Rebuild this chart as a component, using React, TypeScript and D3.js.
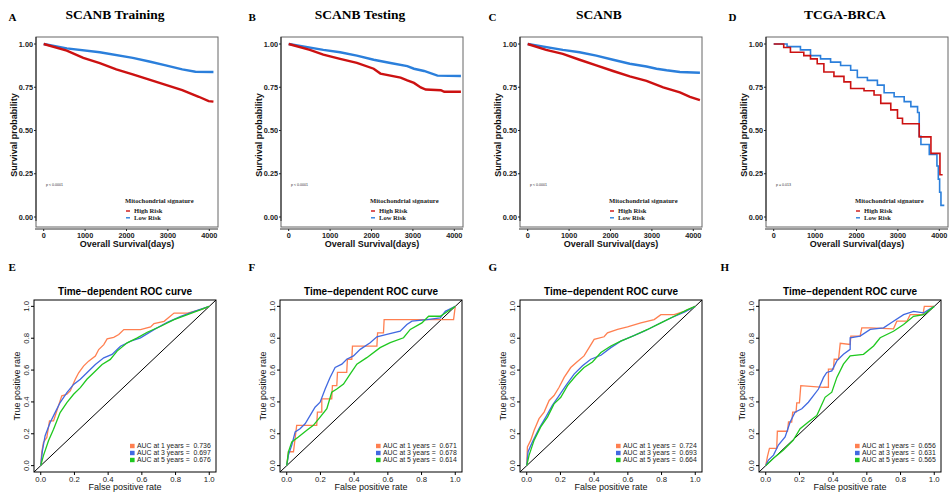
import React from 'react';
import * as d3 from 'd3';

// Kaplan-Meier curves: [days, survival probability]
const kmHighTrain = [[0, 1], [558, 0.962], [956, 0.92], [1355, 0.889], [1753, 0.853], [2151, 0.825], [2550, 0.794], [2948, 0.764], [3347, 0.733], [3745, 0.695], [3984, 0.67], [4100, 0.667]];
const kmLowTrain = [[0, 1], [558, 0.975], [1355, 0.952], [2151, 0.92], [2550, 0.899], [2948, 0.876], [3347, 0.853], [3665, 0.84], [4100, 0.838]];
const kmHighTest = [[0, 1], [511, 0.966], [836, 0.939], [1241, 0.914], [1647, 0.891], [2053, 0.857], [2215, 0.829], [2702, 0.806], [2864, 0.79], [3026, 0.775], [3189, 0.749], [3310, 0.737], [3675, 0.733], [3757, 0.724], [4160, 0.724]];
const kmLowTest = [[0, 1], [836, 0.966], [1241, 0.952], [1647, 0.933], [2053, 0.909], [2458, 0.89], [2864, 0.872], [3026, 0.857], [3270, 0.844], [3594, 0.817], [4160, 0.815]];
const kmHighAll = [[0, 1], [444, 0.966], [848, 0.943], [1253, 0.909], [1657, 0.876], [2061, 0.844], [2465, 0.813], [2869, 0.787], [3273, 0.749], [3677, 0.72], [3919, 0.695], [4160, 0.676]];
const kmLowAll = [[0, 1], [848, 0.966], [1253, 0.952], [1657, 0.933], [2061, 0.909], [2465, 0.886], [2869, 0.87], [3111, 0.857], [3354, 0.848], [3677, 0.838], [4160, 0.834]];
const kmHighTcga = [[0, 1], [242, 0.98], [404, 0.952], [727, 0.933], [889, 0.914], [1051, 0.886], [1212, 0.838], [1455, 0.813], [1697, 0.781], [1859, 0.743], [2182, 0.73], [2424, 0.705], [2586, 0.657], [2828, 0.619], [2990, 0.571], [3111, 0.539], [3515, 0.463], [3798, 0.368], [4016, 0.244], [4081, 0.244]];
const kmLowTcga = [[0, 1], [323, 0.985], [646, 0.966], [889, 0.933], [1131, 0.914], [1374, 0.895], [1616, 0.876], [1859, 0.848], [2020, 0.806], [2263, 0.79], [2505, 0.762], [2667, 0.718], [2909, 0.695], [3152, 0.667], [3313, 0.638], [3475, 0.604], [3515, 0.467], [3556, 0.419], [3758, 0.362], [3943, 0.295], [3976, 0.219], [4008, 0.143], [4040, 0.067], [4121, 0.067]];

const kmTicksX = [0, 1000, 2000, 3000, 4000];
const kmTicksY = [0, 0.25, 0.5, 0.75, 1];

// ROC curves: [false positive rate, true positive rate]
const rocE1 = [[0, 0], [0.006, 0.083], [0.016, 0.146], [0.036, 0.177], [0.052, 0.281], [0.076, 0.281], [0.085, 0.31], [0.105, 0.375], [0.125, 0.438], [0.155, 0.448], [0.175, 0.469], [0.205, 0.542], [0.225, 0.583], [0.254, 0.625], [0.284, 0.656], [0.324, 0.688], [0.344, 0.729], [0.374, 0.76], [0.394, 0.796], [0.433, 0.806], [0.463, 0.823], [0.493, 0.854], [0.592, 0.854], [0.652, 0.871], [0.672, 0.892], [0.732, 0.906], [0.791, 0.958], [0.871, 0.958], [0.95, 0.979], [1, 1]];
const rocE3 = [[0, 0], [0.01, 0.094], [0.026, 0.188], [0.056, 0.271], [0.085, 0.333], [0.115, 0.396], [0.155, 0.458], [0.195, 0.51], [0.235, 0.542], [0.274, 0.583], [0.324, 0.635], [0.374, 0.677], [0.423, 0.698], [0.473, 0.75], [0.533, 0.781], [0.592, 0.802], [0.672, 0.854], [0.751, 0.9], [0.831, 0.9375], [0.911, 0.969], [1, 1]];
const rocE5 = [[0, 0], [0.016, 0.063], [0.046, 0.156], [0.076, 0.229], [0.115, 0.333], [0.155, 0.396], [0.195, 0.448], [0.235, 0.49], [0.274, 0.542], [0.314, 0.583], [0.364, 0.635], [0.413, 0.667], [0.453, 0.719], [0.513, 0.771], [0.573, 0.802], [0.632, 0.8375], [0.712, 0.875], [0.791, 0.917], [0.871, 0.948], [0.95, 0.979], [1, 1]];

const rocF1 = [[0, 0], [0.01, 0.087], [0.04, 0.087], [0.059, 0.253], [0.178, 0.253], [0.182, 0.336], [0.208, 0.336], [0.208, 0.419], [0.267, 0.419], [0.271, 0.502], [0.297, 0.502], [0.301, 0.585], [0.356, 0.585], [0.36, 0.668], [0.386, 0.668], [0.39, 0.751], [0.535, 0.751], [0.539, 0.834], [0.574, 0.834], [0.578, 0.917], [0.99, 0.917], [1, 1]];
const rocF3 = [[0, 0], [0.01, 0.066], [0.03, 0.129], [0.05, 0.212], [0.079, 0.232], [0.109, 0.263], [0.139, 0.315], [0.168, 0.367], [0.198, 0.398], [0.228, 0.481], [0.257, 0.554], [0.287, 0.616], [0.327, 0.637], [0.356, 0.668], [0.396, 0.689], [0.436, 0.73], [0.495, 0.772], [0.535, 0.809], [0.594, 0.824], [0.673, 0.844], [0.713, 0.886], [0.743, 0.907], [0.832, 0.917], [0.911, 0.927], [0.941, 0.969], [1, 1]];
const rocF5 = [[0, 0], [0.01, 0.087], [0.03, 0.149], [0.069, 0.18], [0.119, 0.222], [0.158, 0.253], [0.198, 0.305], [0.238, 0.357], [0.267, 0.461], [0.297, 0.481], [0.337, 0.512], [0.376, 0.575], [0.416, 0.637], [0.475, 0.678], [0.554, 0.741], [0.614, 0.772], [0.693, 0.803], [0.733, 0.855], [0.802, 0.896], [0.842, 0.938], [0.911, 0.938], [0.97, 0.979], [1, 1]];

const rocG1 = [[0, 0], [0.004, 0.118], [0.024, 0.16], [0.044, 0.222], [0.073, 0.295], [0.103, 0.336], [0.133, 0.409], [0.162, 0.44], [0.192, 0.492], [0.222, 0.554], [0.261, 0.616], [0.301, 0.654], [0.34, 0.689], [0.37, 0.741], [0.4, 0.793], [0.459, 0.809], [0.479, 0.834], [0.539, 0.855], [0.598, 0.871], [0.677, 0.896], [0.756, 0.917], [0.796, 0.948], [0.875, 0.948], [0.935, 0.969], [1, 1]];
const rocG3 = [[0, 0], [0.008, 0.087], [0.034, 0.149], [0.073, 0.232], [0.113, 0.305], [0.152, 0.378], [0.192, 0.44], [0.232, 0.502], [0.281, 0.575], [0.331, 0.627], [0.38, 0.668], [0.44, 0.693], [0.499, 0.741], [0.558, 0.782], [0.618, 0.809], [0.697, 0.844], [0.776, 0.886], [0.855, 0.927], [0.935, 0.963], [1, 1]];
const rocG5 = [[0, 0], [0.014, 0.066], [0.044, 0.16], [0.083, 0.243], [0.123, 0.305], [0.162, 0.388], [0.202, 0.429], [0.242, 0.502], [0.291, 0.564], [0.34, 0.616], [0.39, 0.651], [0.44, 0.71], [0.499, 0.751], [0.558, 0.782], [0.638, 0.817], [0.717, 0.855], [0.796, 0.896], [0.875, 0.938], [0.954, 0.979], [1, 1]];

const rocH1 = [[0, 0], [0.01, 0.056], [0.022, 0.108], [0.065, 0.108], [0.069, 0.216], [0.129, 0.216], [0.135, 0.274], [0.154, 0.274], [0.16, 0.336], [0.18, 0.336], [0.184, 0.394], [0.2, 0.394], [0.208, 0.502], [0.343, 0.492], [0.372, 0.492], [0.372, 0.606], [0.402, 0.606], [0.406, 0.668], [0.432, 0.668], [0.442, 0.768], [0.501, 0.761], [0.505, 0.813], [0.56, 0.813], [0.57, 0.865], [0.62, 0.865], [0.758, 0.859], [0.778, 0.907], [0.838, 0.907], [0.857, 0.948], [0.933, 0.948], [0.941, 1], [1, 1]];
const rocH3 = [[0, 0], [0.016, 0.035], [0.046, 0.066], [0.075, 0.129], [0.115, 0.18], [0.145, 0.274], [0.174, 0.336], [0.214, 0.357], [0.253, 0.398], [0.283, 0.44], [0.313, 0.481], [0.343, 0.554], [0.362, 0.585], [0.392, 0.595], [0.422, 0.658], [0.461, 0.699], [0.501, 0.73], [0.501, 0.803], [0.56, 0.813], [0.62, 0.855], [0.699, 0.865], [0.758, 0.907], [0.818, 0.948], [0.877, 0.969], [0.937, 0.959], [1, 1]];
const rocH5 = [[0, 0], [0.046, 0.046], [0.105, 0.098], [0.164, 0.16], [0.204, 0.232], [0.253, 0.274], [0.303, 0.315], [0.352, 0.429], [0.392, 0.461], [0.422, 0.554], [0.461, 0.637], [0.501, 0.689], [0.58, 0.699], [0.64, 0.751], [0.679, 0.803], [0.758, 0.844], [0.818, 0.886], [0.877, 0.938], [0.937, 0.948], [1, 1]];

const rocTicks = [0, 0.2, 0.4, 0.6, 0.8, 1];
const rocYears = [1, 3, 5];
const aucE = ['0.736', '0.697', '0.676'];
const aucF = ['0.671', '0.678', '0.614'];
const aucG = ['0.724', '0.693', '0.664'];
const aucH = ['0.656', '0.631', '0.565'];

const SANS = 'Liberation Sans, Arial, Helvetica, sans-serif';
const SERIF = 'Liberation Serif, Times New Roman, serif';
const RED = '#cc1111';
const BLUE = '#2b7fdb';
const ROC_COLORS = ['#ff7f50', '#4169e1', '#1fc81f'];

const kmPanels = [
  { letter: 'A', title: 'SCANB Training', ox: 0, left: 36, high: kmHighTrain, low: kmLowTrain, p: 'p < 0.0001', step: false },
  { letter: 'B', title: 'SCANB Testing', ox: 240, left: 281, high: kmHighTest, low: kmLowTest, p: 'p < 0.0001', step: false },
  { letter: 'C', title: 'SCANB', ox: 480, left: 520, high: kmHighAll, low: kmLowAll, p: 'p < 0.0001', step: false },
  { letter: 'D', title: 'TCGA-BRCA', ox: 720, left: 766, high: kmHighTcga, low: kmLowTcga, p: 'p = 0.013', step: true },
];

const rocPanels = [
  { letter: 'E', ox: 0, left: 34, curves: [rocE1, rocE3, rocE5], auc: aucE },
  { letter: 'F', ox: 240, left: 280, curves: [rocF1, rocF3, rocF5], auc: aucF },
  { letter: 'G', ox: 480, left: 520, curves: [rocG1, rocG3, rocG5], auc: aucG },
  { letter: 'H', ox: 712, left: 759, curves: [rocH1, rocH3, rocH5], auc: aucH },
];

const KMPanel = ({ cfg }) => {
  const w = 182;
  const top = 37;
  const bottom = 227;
  const x = d3.scaleLinear().domain([0, 4000]).range([cfg.left + 7.7, cfg.left + 173.3]);
  const y = d3.scaleLinear().domain([0, 1]).range([217, 44]);
  const line = d3.line()
    .x(d => x(d[0]))
    .y(d => y(d[1]))
    .curve(cfg.step ? d3.curveStepAfter : d3.curveLinear);
  const lw = cfg.step ? 1.6 : 2.4;
  const cx = cfg.left + w / 2;
  const lx = cfg.left + 90;
  return (
    <g>
      <text x={cfg.ox + 8.5} y={20.7} fontFamily={SERIF} fontWeight="bold" fontSize={11}>{cfg.letter}</text>
      {/* title sits over the whole panel, y labels included */}
      <text x={cfg.left + 79} y={18.5} textAnchor="middle" fontFamily={SERIF} fontWeight="bold" fontSize={13.5}>{cfg.title}</text>
      <rect x={cfg.left} y={top} width={w} height={bottom - top} fill="none" stroke="#666" strokeWidth={1} />
      <line x1={cfg.left} x2={cfg.left} y1={top} y2={221} stroke="#222" strokeWidth={1} />
      <line x1={cfg.left - 1} x2={cfg.left + w} y1={229} y2={229} stroke="#333" strokeWidth={1} />
      {kmTicksY.map(t => (
        <g key={t}>
          <line x1={cfg.left - 2} x2={cfg.left} y1={y(t)} y2={y(t)} stroke="#222" />
          <text x={cfg.left - 3} y={y(t) + 2.5} textAnchor="end" fontFamily={SANS} fontWeight="bold" fontSize={7.3} fill="#222">{t.toFixed(2)}</text>
        </g>
      ))}
      {kmTicksX.map(t => (
        <g key={t}>
          <line x1={x(t)} x2={x(t)} y1={229} y2={231} stroke="#222" />
          <text x={x(t)} y={238.3} textAnchor="middle" fontFamily={SANS} fontWeight="bold" fontSize={7.3} fill="#222">{t}</text>
        </g>
      ))}
      <text x={cx} y={246.5} textAnchor="middle" fontFamily={SANS} fontWeight="bold" fontSize={9} fill="#111">Overall Survival(days)</text>
      <text transform={`translate(${cfg.left - 19.5},${(top + bottom) / 2 + 3}) rotate(-90)`} textAnchor="middle" fontFamily={SANS} fontWeight="bold" fontSize={9} fill="#111">Survival probability</text>
      <path d={line(cfg.low)} fill="none" stroke={BLUE} strokeWidth={lw} />
      <path d={line(cfg.high)} fill="none" stroke={RED} strokeWidth={lw} />
      <text x={cfg.left + 10} y={186} fontFamily={SANS} fontSize={3.6} fill="#333">{cfg.p}</text>
      <text x={lx - 1} y={203} fontFamily={SERIF} fontWeight="bold" fontSize={6.6} fill="#222">Mitochondrial signature</text>
      <line x1={lx} x2={lx + 4} y1={211} y2={211} stroke={RED} strokeWidth={1.4} />
      <text x={lx + 8} y={213} fontFamily={SERIF} fontWeight="bold" fontSize={6.6} fill="#222">High Risk</text>
      <line x1={lx} x2={lx + 4} y1={217.8} y2={217.8} stroke={BLUE} strokeWidth={1.4} />
      <text x={lx + 8} y={220} fontFamily={SERIF} fontWeight="bold" fontSize={6.6} fill="#222">Low Risk</text>
    </g>
  );
};

const ROCPanel = ({ cfg }) => {
  const w = 182;
  const top = 300;
  const bottom = 472;
  const right = cfg.left + w;
  const x = d3.scaleLinear().domain([-0.04, 1.04]).range([cfg.left, right]);
  const y = d3.scaleLinear().domain([-0.04, 1.04]).range([bottom, top]);
  const line = d3.line().x(d => x(d[0])).y(d => y(d[1]));
  const cx = cfg.left + w / 2;
  const legendRows = [446, 453, 460];
  return (
    <g>
      <text x={cfg.ox + 8.5} y={270.5} fontFamily={SERIF} fontWeight="bold" fontSize={11}>{cfg.letter}</text>
      <text x={cx} y={295} textAnchor="middle" fontFamily={SANS} fontWeight="bold" fontSize={10}>Time−dependent ROC curve</text>
      <line x1={x(-0.04)} y1={y(-0.04)} x2={x(1.04)} y2={y(1.04)} stroke="#000" strokeWidth={1} />
      {cfg.curves.map((c, i) => (
        <path key={i} d={line(c)} fill="none" stroke={ROC_COLORS[i]} strokeWidth={1.3} />
      ))}
      <rect x={cfg.left} y={top} width={w} height={bottom - top} fill="none" stroke="#000" strokeWidth={1} />
      {rocTicks.map(t => (
        <g key={t}>
          <line x1={x(t)} x2={x(t)} y1={bottom} y2={bottom + 3} stroke="#000" />
          <text x={x(t)} y={481.5} textAnchor="middle" fontFamily={SANS} fontSize={7.8} fill="#222">{t.toFixed(1)}</text>
          <line x1={cfg.left - 3} x2={cfg.left} y1={y(t)} y2={y(t)} stroke="#000" />
          <text transform={`translate(${cfg.left - 5},${y(t)}) rotate(-90)`} textAnchor="middle" fontFamily={SANS} fontSize={7.8} fill="#222">{t.toFixed(1)}</text>
        </g>
      ))}
      <text x={cx} y={490} textAnchor="middle" fontFamily={SANS} fontSize={9} fill="#111">False positive rate</text>
      <text transform={`translate(${cfg.left - 14.5},${(top + bottom) / 2}) rotate(-90)`} textAnchor="middle" fontFamily={SANS} fontSize={9} fill="#111">True positive rate</text>
      {rocYears.map((yr, i) => (
        <g key={yr}>
          <rect x={cfg.left + 96} y={legendRows[i] - 2.2} width={4.6} height={4.4} fill={ROC_COLORS[i]} />
          <text x={cfg.left + 103} y={legendRows[i] + 2.4} fontFamily={SANS} fontSize={6.9} fill="#222" style={{ whiteSpace: 'pre' }}>{`AUC at ${yr} years =  ${cfg.auc[i]}`}</text>
        </g>
      ))}
    </g>
  );
};

export default function App() {
  return (
    <svg width={952} height={494} style={{ position: 'absolute', left: 0, top: 0, background: '#fff' }}>
      <rect width={952} height={494} fill="#fff" />
      {kmPanels.map(p => <KMPanel key={p.letter} cfg={p} />)}
      {rocPanels.map(p => <ROCPanel key={p.letter} cfg={p} />)}
    </svg>
  );
}
